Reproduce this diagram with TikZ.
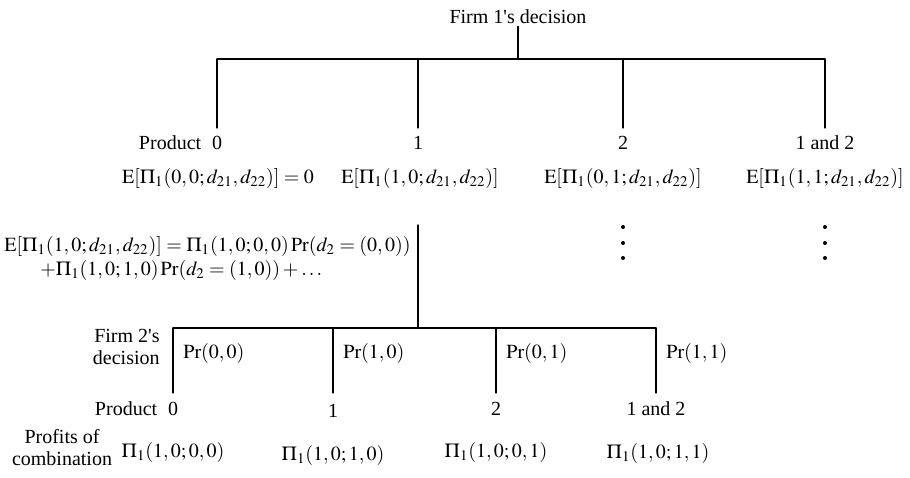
\documentclass[tikz,border=0pt]{standalone}
\usepackage{mathptmx}
\usepackage{fontspec}
\setmainfont{Liberation Serif}
\usetikzlibrary{positioning}
\tikzset{
  branch/.style={line width=0.6pt},
  lab/.style={inner sep=1pt},
}
\begin{document}
\begin{tikzpicture}[x=0.5pt, y=-0.5pt, font=\fontsize{10}{11}\selectfont, line join=round, line cap=round]
			\useasboundingbox (0,0) rectangle (910,477);
			\def\ytop{59}\def\yleg{128}\def\ybot{328}\def\ylow{393}
			% Firm 1's tree
			\node[lab] (firm1) at (518,17) {Firm 1\textquotesingle s decision};
			\coordinate (j1) at (518,\ytop);
			\draw[branch] (firm1) -- (j1);
			\foreach \n/\x in {0/217,1/418,2/623,3/825}{
				\coordinate (t\n) at (\x,\ytop);
				\coordinate (l\n) at (\x,\yleg);
			}
			\draw[branch] (t0) -- (t3);
			\foreach \n in {0,...,3}\draw[branch] (t\n) -- (l\n);
			\node[lab] (p0) at (217,143) {0};
			\node[lab, base left=3pt of p0] (prod1) {Product};
			\node[lab] (p1) at (418,143) {1};
			\node[lab] (p2) at (623,143) {2};
			\node[lab] (p3) at (825,143) {1 and 2};
			\node[lab] (ev0) at (218,178) {$\mathrm{E}[\Pi_1(0, 0; d_{21}, d_{22})] = 0$};
			\node[lab] (ev1) at (420,178) {$\mathrm{E}[\Pi_1(1, 0; d_{21}, d_{22})]$};
			\node[lab] (ev2) at (623,178) {$\mathrm{E}[\Pi_1(0, 1; d_{21}, d_{22})]$};
			\node[lab] (ev3) at (825,178) {$\mathrm{E}[\Pi_1(1, 1; d_{21}, d_{22})]$};
			\foreach \x in {623,825}\foreach \y in {227,243,258}\fill (\x,\y) circle (1pt);
			% expansion of product 1
			\node[inner sep=0pt, anchor=west] (sum1) at (4,246) {$\mathrm{E}[\Pi_1(1, 0; d_{21}, d_{22})] = \Pi_1(1, 0; 0, 0)\Pr(d_2 = (0, 0))$};
			\node[inner sep=0pt, anchor=west] (sum2) at (40,270) {$+\Pi_1(1, 0; 1, 0)\Pr(d_2 = (1, 0)) + \ldots$};
			\coordinate (m1) at (418,225);
			\coordinate (j2) at (418,\ybot);
			\draw[branch] (m1) -- (j2);
			% Firm 2's tree
			\foreach \n/\x in {0/173,1/333,2/496,3/656}{
				\coordinate (u\n) at (\x,\ybot);
				\coordinate (v\n) at (\x,\ylow);
			}
			\draw[branch] (u0) -- (u3);
			\foreach \n in {0,...,3}\draw[branch] (u\n) -- (v\n);
			\node[lab, align=right, anchor=east] (firm2) at (162,347) {Firm 2\textquotesingle s\\decision};
			\foreach \n/\x/\t in {0/173/{0, 0},1/333/{1, 0},2/496/{0, 1},3/656/{1, 1}}
				\node[lab, anchor=west] (pr\n) at (\x+8,353) {$\Pr(\t)$};
			\node[lab] (q0) at (173,409) {0};
			\node[lab, base left=3pt of q0] (prod2) {Product};
			\node[lab] (q1) at (333,411) {1};
			\node[lab] (q2) at (496,409) {2};
			\node[lab] (q3) at (656,409) {1 and 2};
			% profits
			\node[lab, align=center] (prof) at (62,448) {Profits of\\combination};
			\node[lab] (pi0) at (173,452) {$\Pi_1(1, 0; 0, 0)$};
			\node[lab] (pi1) at (333,455) {$\Pi_1(1, 0; 1, 0)$};
			\node[lab] (pi2) at (496,452) {$\Pi_1(1, 0; 0, 1)$};
			\node[lab] (pi3) at (658,453) {$\Pi_1(1, 0; 1, 1)$};
		\end{tikzpicture}
\end{document}
